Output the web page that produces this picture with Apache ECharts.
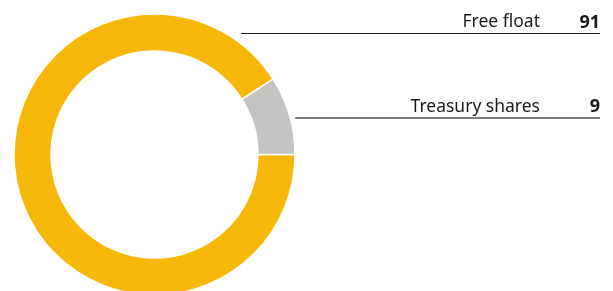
<!DOCTYPE html>
<html>
<head>
<meta charset="utf-8">
<script src="https://cdn.jsdelivr.net/npm/echarts@6/dist/echarts.min.js"></script>
<style>
  html, body { margin: 0; padding: 0; background: #fff; }
  #chart { width: 613px; height: 291px; }
</style>
</head>
<body>
<div id="chart"></div>
<script>
// shareholder structure, in percent
var names = ["Free float", "Treasury shares"];
var values = [91, 9];
var colors = ["#F6B708", "#C4C4C2"];
var lineColors = ["#1a1a1a", "#7a7a7a"];
var lineWidths = [1, 2];

var cx = 154.5, cy = 154.5, rIn = 103.5, rOut = 140.5;
var lineY = [33.5, 118];   // where the underline of each label sits
var rightEdge = 600;

var chart = echarts.init(document.getElementById("chart"));

var data = names.map(function (n, i) {
  return {
    name: n,
    value: values[i],
    itemStyle: { color: colors[i] },
    labelLine: { lineStyle: { color: lineColors[i], width: lineWidths[i] } }
  };
});

chart.setOption({
  animation: false,
  series: [
    {
      type: "pie",
      center: [cx, cy],
      radius: [rIn, rOut],
      startAngle: 0,
      clockwise: true,
      avoidLabelOverlap: false,
      itemStyle: { borderColor: "#fff", borderWidth: 1.5 },
      label: {
        show: true,
        position: "outside",
        formatter: function (p) {
          return "{n|" + p.name + "}{v|" + p.value + "}";
        },
        rich: {
          n: { fontFamily: "Noto Sans", fontSize: 17.5, color: "#1a1a1a" },
          v: { fontFamily: "Noto Sans", fontSize: 18, fontWeight: "bold", color: "#1a1a1a", width: 60, align: "right" }
        }
      },
      labelLine: { show: true, smooth: false },
      labelLayout: function (p) {
        var y = lineY[p.dataIndex];
        var dy = y - cy;
        var x0 = cx + Math.sqrt(Math.max(0, rOut * rOut - dy * dy)) + (p.dataIndex === 0 ? 15 : 5);
        return {
          x: rightEdge,
          y: y - 2,
          align: "right",
          verticalAlign: "bottom",
          labelLinePoints: [[x0, y], [x0, y], [rightEdge, y]]
        };
      },
      data: data
    }
  ]
});
</script>
</body>
</html>
